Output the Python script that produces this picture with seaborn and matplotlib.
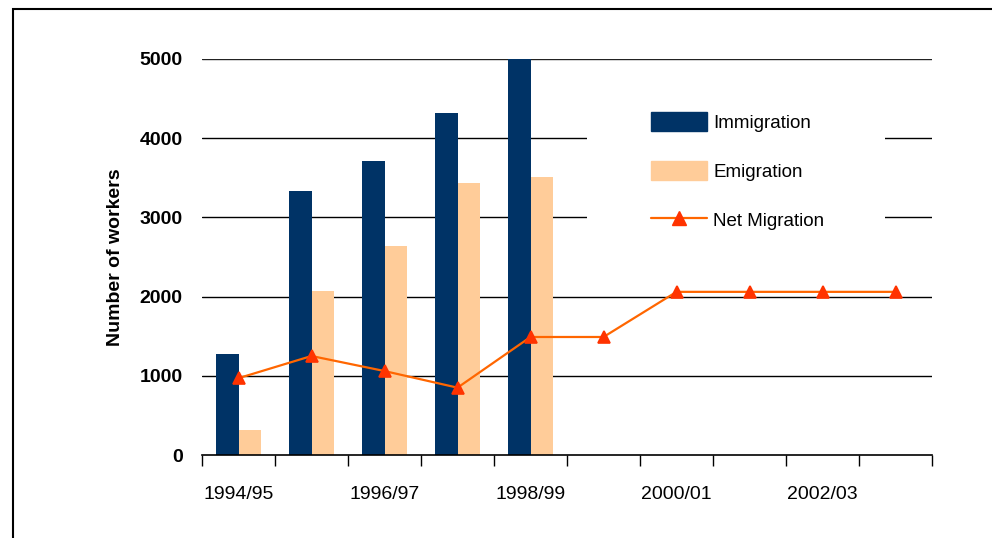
import matplotlib
matplotlib.use("Agg")
import matplotlib.pyplot as plt
import matplotlib.patches as mpatches
from matplotlib.lines import Line2D
import seaborn as sns
import pandas as pd
import numpy as np

categories = ["1994/95", "1995/96", "1996/97", "1997/98", "1998/99",
              "1999/00", "2000/01", "2001/02", "2002/03", "2003/04"]
bar_years = ["1994/95", "1995/96", "1996/97", "1997/98", "1998/99"]
immigration = [1280, 3330, 3710, 4320, 5000]
emigration = [310, 2070, 2640, 3430, 3510]
net_migration = [970, 1250, 1060, 850, 1490, 1490, 2060, 2060, 2060, 2060]
shown_labels = ["1994/95", "1996/97", "1998/99", "2000/01", "2002/03"]
y_ticks = [0, 1000, 2000, 3000, 4000, 5000]

sns.set_theme(style="white")
plt.rcParams["font.family"] = ["Liberation Sans", "DejaVu Sans"]
plt.rcParams["text.color"] = "black"
plt.rcParams["axes.labelcolor"] = "black"
plt.rcParams["xtick.color"] = "black"
plt.rcParams["ytick.color"] = "black"

bars = pd.DataFrame({
    "year": bar_years * 2,
    "value": immigration + emigration,
    "series": ["Immigration"] * len(bar_years) + ["Emigration"] * len(bar_years),
})
net = pd.DataFrame({"year": categories, "value": net_migration})

fig = plt.figure(figsize=(9.92, 5.38), dpi=100)
ax = fig.add_axes([202 / 992, 1 - 455 / 538, 730 / 992, (455 - 59) / 538])

navy = "#003366"
peach = "#FFCC99"
orange = "#FF6600"
red = "#FF3300"

sns.barplot(data=bars, x="year", y="value", hue="series", order=categories,
            hue_order=["Immigration", "Emigration"],
            palette=[navy, peach], width=0.62, gap=0, saturation=1,
            errorbar=None, ax=ax, legend=False, zorder=3, linewidth=0)
sns.pointplot(data=net, x="year", y="value", order=categories, color=orange,
              markers="^", linestyles="-", errorbar=None, ax=ax,
              markersize=9, linewidth=1.6, zorder=4)
for line in ax.lines:
    line.set_markerfacecolor(red)
    line.set_markeredgecolor(red)

ax.set_xlim(-0.5, len(categories) - 0.5)
ax.set_ylim(0, 5000)
ax.set_yticks(y_ticks)
ax.set_yticklabels([str(v) for v in y_ticks], fontsize=14, fontweight="bold")
for v in y_ticks[1:]:
    ax.axhline(v, color="#222222" if v == y_ticks[-1] else "black",
               linewidth=1.0, zorder=1)

major = [categories.index(c) for c in shown_labels]
ax.set_xticks(major)
ax.set_xticklabels(shown_labels, fontsize=14)
ax.set_xticks(np.arange(-0.5, len(categories)), minor=True)
ax.tick_params(axis="x", which="major", length=0, pad=22)
ax.tick_params(axis="x", which="minor", length=8, width=1, color="black",
               direction="out", bottom=True)
ax.tick_params(axis="y", length=0, pad=14)

ax.set_xlabel("")
ax.set_ylabel("Number of workers", fontsize=14, fontweight="bold", labelpad=11)
for s in ["top", "right", "left"]:
    ax.spines[s].set_visible(False)
ax.spines["bottom"].set_color("black")
ax.spines["bottom"].set_linewidth(1.2)
ax.spines["bottom"].set_zorder(5)

# white legend background covering the gridlines
ax.add_patch(mpatches.Rectangle((0.527, 0.48), 0.409, 0.49, transform=ax.transAxes,
                                facecolor="white", edgecolor="none", zorder=2))

handles = [
    mpatches.Patch(color=navy, label="Immigration"),
    mpatches.Patch(color=peach, label="Emigration"),
    Line2D([0], [0], color=orange, linewidth=1.6, marker="^", markersize=10,
           markerfacecolor=red, markeredgecolor=red, label="Net Migration"),
]
leg = ax.legend(handles=handles, loc="upper left", bbox_to_anchor=(0.605, 0.885),
                frameon=False, fontsize=13.5, handlelength=3.0, handleheight=1.2,
                labelspacing=1.55, handletextpad=0.3, borderaxespad=0)
leg.set_zorder(6)

fig.patches.append(mpatches.Rectangle((12.5 / 992, -0.05), 1.1, 1 - 9.5 / 538 + 0.05,
                                      transform=fig.transFigure, fill=False,
                                      edgecolor="black", linewidth=1.5))

fig.savefig("out.png", dpi=100)
